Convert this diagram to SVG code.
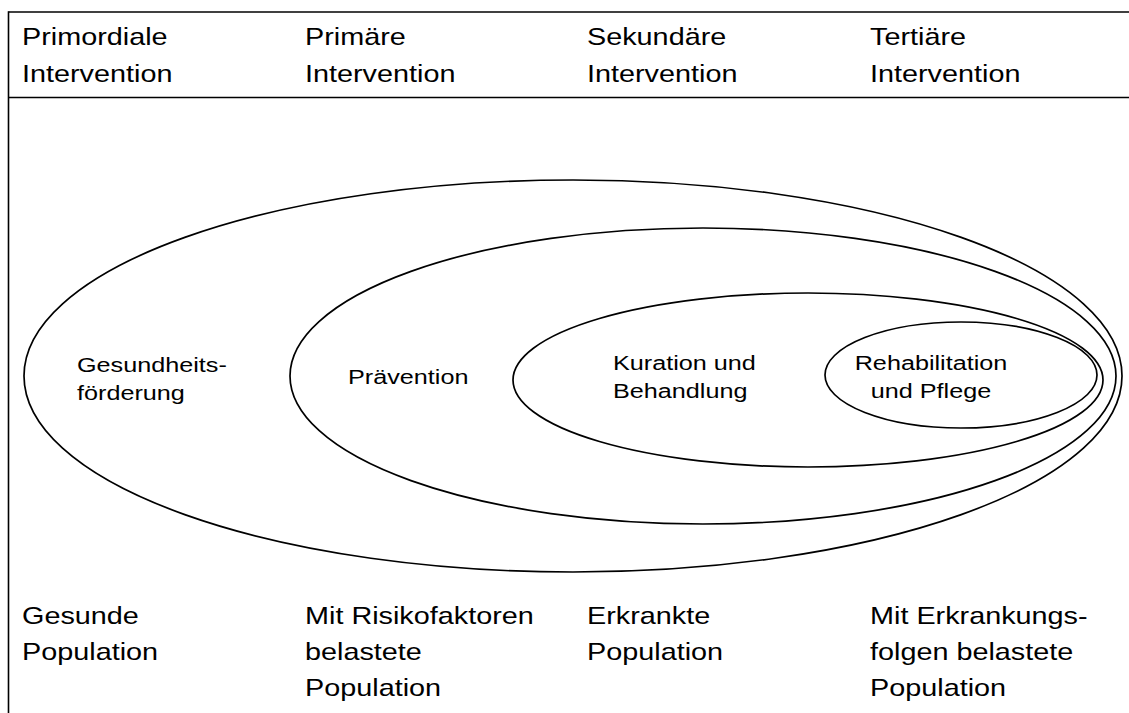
<svg xmlns="http://www.w3.org/2000/svg" width="1129" height="713" viewBox="0 0 1129 713">
  <style>
    .frame { fill: none; stroke: #000; stroke-width: 1.6; }
    .zone { fill: none; stroke: #000; stroke-width: 1.7; }
    text { font-family: "Liberation Sans", Arial, Helvetica, sans-serif; fill: #000; }
    .head { font-size: 24px; }
    .lbl { font-size: 21px; }
  </style>
  <rect width="1129" height="713" fill="#fff"/>

  <!-- table frame -->
  <g id="frame">
    <line class="frame" x1="8.5" y1="12" x2="1129" y2="12"/>
    <line class="frame" x1="8.5" y1="97.5" x2="1129" y2="97.5"/>
    <line class="frame" x1="8.5" y1="11.2" x2="8.5" y2="713"/>
  </g>

  <!-- column headers -->
  <g id="header-primordial">
    <text class="head" transform="matrix(1.2 0 0 1 22 45)">Primordiale</text>
    <text class="head" transform="matrix(1.2 0 0 1 22 82)">Intervention</text>
  </g>
  <g id="header-primary">
    <text class="head" transform="matrix(1.2 0 0 1 305 45)">Primäre</text>
    <text class="head" transform="matrix(1.2 0 0 1 305 82)">Intervention</text>
  </g>
  <g id="header-secondary">
    <text class="head" transform="matrix(1.2 0 0 1 587 45)">Sekundäre</text>
    <text class="head" transform="matrix(1.2 0 0 1 587 82)">Intervention</text>
  </g>
  <g id="header-tertiary">
    <text class="head" transform="matrix(1.2 0 0 1 870 45)">Tertiäre</text>
    <text class="head" transform="matrix(1.2 0 0 1 870 82)">Intervention</text>
  </g>

  <!-- nested zones -->
  <g id="zone-health-promotion">
    <ellipse class="zone" cx="573" cy="376" rx="549" ry="196"/>
    <text class="lbl" transform="matrix(1.2 0 0 1 77 372)">Gesundheits-</text>
    <text class="lbl" transform="matrix(1.2 0 0 1 77 400)">förderung</text>
  </g>
  <g id="zone-prevention">
    <ellipse class="zone" cx="703" cy="376" rx="413" ry="148"/>
    <text class="lbl" transform="matrix(1.2 0 0 1 348 384)">Prävention</text>
  </g>
  <g id="zone-curation">
    <ellipse class="zone" cx="808" cy="380" rx="295" ry="87"/>
    <text class="lbl" transform="matrix(1.2 0 0 1 613 370)">Kuration und</text>
    <text class="lbl" transform="matrix(1.2 0 0 1 613 398)">Behandlung</text>
  </g>
  <g id="zone-rehabilitation">
    <ellipse class="zone" cx="961" cy="375" rx="136" ry="53"/>
    <text class="lbl" text-anchor="middle" transform="matrix(1.2 0 0 1 931 370)">Rehabilitation</text>
    <text class="lbl" text-anchor="middle" transform="matrix(1.2 0 0 1 931 398)">und Pflege</text>
  </g>

  <!-- population rows -->
  <g id="pop-healthy">
    <text class="head" transform="matrix(1.2 0 0 1 22 624)">Gesunde</text>
    <text class="head" transform="matrix(1.2 0 0 1 22 660)">Population</text>
  </g>
  <g id="pop-risk">
    <text class="head" transform="matrix(1.2 0 0 1 305 624)">Mit Risikofaktoren</text>
    <text class="head" transform="matrix(1.2 0 0 1 305 660)">belastete</text>
    <text class="head" transform="matrix(1.2 0 0 1 305 696)">Population</text>
  </g>
  <g id="pop-ill">
    <text class="head" transform="matrix(1.2 0 0 1 587 624)">Erkrankte</text>
    <text class="head" transform="matrix(1.2 0 0 1 587 660)">Population</text>
  </g>
  <g id="pop-consequences">
    <text class="head" transform="matrix(1.2 0 0 1 870 624)">Mit Erkrankungs-</text>
    <text class="head" transform="matrix(1.2 0 0 1 870 660)">folgen belastete</text>
    <text class="head" transform="matrix(1.2 0 0 1 870 696)">Population</text>
  </g>
</svg>
